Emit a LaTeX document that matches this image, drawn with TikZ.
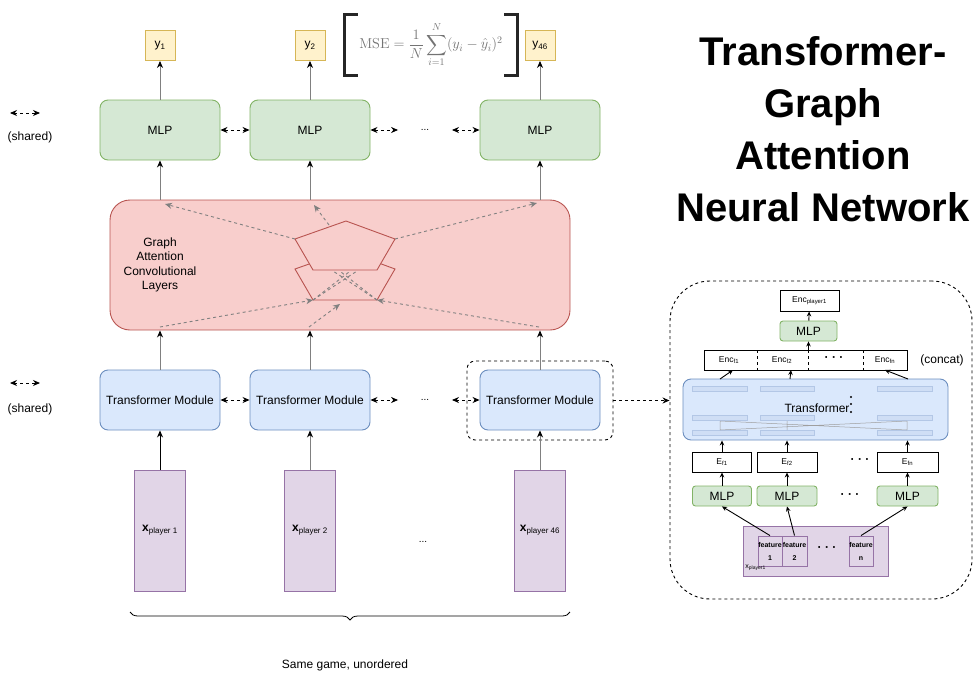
\documentclass[tikz,border=0pt]{standalone}
\usepackage{amsmath}
\usepackage[no-math]{fontspec}
\setmainfont{Liberation Sans}
\usetikzlibrary{arrows.meta,positioning,calc,decorations.pathreplacing}

\definecolor{mlpfill}{HTML}{D5E8D4}
\definecolor{mlpedge}{HTML}{82B366}
\definecolor{tffill}{HTML}{DAE8FC}
\definecolor{tfedge}{HTML}{6C8EBF}
\definecolor{gatfill}{HTML}{F8CECC}
\definecolor{gatedge}{HTML}{B85450}
\definecolor{xfill}{HTML}{E1D5E7}
\definecolor{xedge}{HTML}{9673A6}
\definecolor{yfill}{HTML}{FFF2CC}
\definecolor{yedge}{HTML}{D6B656}
\definecolor{barfill}{HTML}{CFDEF5}
\definecolor{baredge}{HTML}{B3C7E6}
\definecolor{linkgray}{HTML}{808080}

\begin{document}
\begin{tikzpicture}[x=1pt,y=-1pt,line width=0.9pt,
  font=\fontsize{12}{14}\selectfont,
  dash3/.style={dash pattern=on 3pt off 3pt},
  mlp/.style={draw=mlpedge,fill=mlpfill,rounded corners=8pt,minimum width=120pt,minimum height=60pt,inner sep=0pt},
  tfm/.style={draw=tfedge,fill=tffill,rounded corners=8pt,minimum width=120pt,minimum height=60pt,inner sep=0pt},
  ybox/.style={draw=yedge,fill=yfill,minimum width=30pt,minimum height=30pt,inner sep=0pt},
  xbox/.style={draw=xedge,fill=xfill,minimum width=51pt,minimum height=121pt,inner sep=0pt},
  dots/.style={minimum width=53pt,inner sep=0pt,font=\fontsize{10}{12}\selectfont},
  link/.style={draw=linkgray,-{Stealth[length=7pt,width=6pt,black]}},
  shared/.style={dash3,{Stealth[length=7pt,width=6pt]}-{Stealth[length=7pt,width=6pt]}},
  gatarr/.style={draw=linkgray,dash3,-{Stealth[length=7pt,width=6pt]}},
  gatdash/.style={draw=linkgray,dash3},
  penta/.style={draw=gatedge,fill=gatfill},
  plain/.style={draw,fill=white,inner sep=0pt,font=\fontsize{8.5}{10}\selectfont},
  smlp/.style={draw=mlpedge,fill=mlpfill,rounded corners=3pt,minimum height=20pt,inner sep=0pt},
  feat/.style={draw=xedge,fill=xfill,minimum height=30pt,inner sep=0pt,align=center,font=\fontsize{7}{13}\selectfont\bfseries},
  bar/.style={draw=baredge,fill=barfill,line width=0.5pt},
  sarr/.style={-{Stealth[length=5pt,width=4.5pt]}},
  idots/.style={font=\fontsize{12}{14}\selectfont\bfseries}
]
\useasboundingbox (0,0) rectangle (977,680);

\node[ybox] (y1) at (160,45.5) {y\textsubscript{1}};
\node[ybox] (y2) at (310,45.5) {y\textsubscript{2}};
\node[ybox] (y46) at (540,45.5) {y\textsubscript{46}};

\node[text=black!55,font=\fontsize{14}{16}\selectfont,minimum width=172pt,minimum height=60pt,inner sep=0pt] (mse) at (431,45)
  {$\displaystyle \mathrm{MSE}=\frac{1}{N}\sum_{i=1}^{N}(y_i-\hat{y}_i)^2$};
\draw[line width=2.2pt,black!85] ($(mse.north west)+(13,0)$) -- (mse.north west) -- (mse.south west) -- ++(13,0);
\draw[line width=2.2pt,black!85] ($(mse.north east)+(-13,0)$) -- (mse.north east) -- (mse.south east) -- ++(-13,0);

\node[font=\fontsize{40}{52}\selectfont\bfseries,align=center] (title) at (823,129)
  {Transformer-\\Graph\\Attention\\Neural Network};

\node[mlp] (mlp1) at (160,130) {MLP};
\node[mlp] (mlp2) at (310,130) {MLP};
\node[dots] (mdots) at (425,130) {...};
\node[mlp] (mlp3) at (540,130) {MLP};
\draw[shared] (mlp1) -- (mlp2);
\draw[shared] (mlp2) -- (mdots);
\draw[shared] (mdots) -- (mlp3);
\draw[link] (mlp1) -- (y1);
\draw[link] (mlp2) -- (y2);
\draw[link] (mlp3) -- (y46);

\coordinate (lega) at (10,113);
\coordinate (legb) at (40,113);
\draw[shared] (lega) -- (legb);
\node (legtxt1) at (30,137) {(shared)};

\node[draw=gatedge,fill=gatfill,rounded corners=20pt,minimum width=460pt,minimum height=130pt] (gat) at (340,265) {};
\node[align=center,font=\fontsize{12}{14.5}\selectfont] (gattxt) at (160,265) {Graph\\Attention\\Convolutional\\Layers};
\draw[penta] (295,269) -- (346,251) -- (395,269) -- (377,300) -- (313,300) -- cycle;
\draw[penta] (295,239) -- (346,221) -- (395,239) -- (377,270) -- (313,270) -- cycle;

\coordinate (pl) at (295,239);
\coordinate (pt) at (329,225);
\coordinate (pr) at (395,239);
\coordinate (qbl) at (313,300);
\coordinate (qm) at (340,304);
\coordinate (qbr) at (377,300);
\coordinate (g1) at (165,204);
\coordinate (g2) at (314,205);
\coordinate (g3) at (537,203);
\coordinate (h1) at (160,327);
\coordinate (h2) at (309,327);
\coordinate (h3) at (539,327);
\draw[gatarr] (pl) -- (g1);
\draw[gatarr] (pt) -- (g2);
\draw[gatarr] (pr) -- (g3);
\draw[gatarr] (h1) -- (qbl);
\draw[gatarr] (h2) -- (qm);
\draw[gatarr] (h3) -- (qbr);
\draw[gatdash] (qbl) -- (357,271);
\draw[gatdash] (qbl) -- (349,272);
\draw[gatdash] (qbr) -- (333,271);
\draw[gatdash] (qbr) -- (341,272);
\draw[link] (mlp1 |- gat.north) -- (mlp1);
\draw[link] (mlp2 |- gat.north) -- (mlp2);
\draw[link] (mlp3 |- gat.north) -- (mlp3);

\node[draw,dash3,rounded corners=8pt,minimum width=146pt,minimum height=79pt] (tfsel) at (540,400.5) {};
\node[tfm] (tf1) at (160,400) {Transformer Module};
\node[tfm] (tf2) at (310,400) {Transformer Module};
\node[dots] (tdots) at (425,400) {...};
\node[tfm] (tf3) at (540,400) {Transformer Module};
\draw[shared] (tf1) -- (tf2);
\draw[shared] (tf2) -- (tdots);
\draw[shared] (tdots) -- (tf3);
\draw[link] (tf1) -- (tf1 |- gat.south);
\draw[link] (tf2) -- (tf2 |- gat.south);
\draw[link] (tf3) -- (tf3 |- gat.south);

\coordinate (legc) at (10,383);
\coordinate (legd) at (40,383);
\draw[shared] (legc) -- (legd);
\node (legtxt2) at (30,409) {(shared)};

\node[xbox] (x1) at (160,530.5) {{\bfseries x}\textsubscript{player 1}};
\node[xbox] (x2) at (310,530.5) {{\bfseries x}\textsubscript{player 2}};
\node[dots] (xdots) at (423,542) {...};
\node[xbox] (x46) at (540,530.5) {{\bfseries x}\textsubscript{player 46}};
\draw[-{Stealth[length=7pt,width=6pt]}] (x1) -- (tf1);
\draw[link] (x2) -- (tf2);
\draw[link] (x46) -- (tf3);

\coordinate (bra) at (570,612);
\coordinate (brb) at (130,612);
\draw[decorate,decoration={brace,amplitude=8pt},line width=0.8pt] (bra) -- (brb);
\node (game) at (345,665) {Same game, unordered};

\node[draw,dash3,rounded corners=40pt,minimum width=302pt,minimum height=318pt,inner sep=0pt] (inset) at (821,440) {};
\draw[dash3,-{Stealth[length=7pt,width=6pt]}] (tfsel.east) -- (tfsel.east -| inset.west);

\node[plain,minimum width=59pt,minimum height=21pt] (encp) at (809.5,300.5) {Enc\textsubscript{player1}};
\node[smlp,minimum width=57pt] (smlp) at (808.5,331) {MLP};
\node[plain,minimum width=203pt,minimum height=20pt] (encrow) at (805.5,360) {};
\foreach \sx in {757,808,863}
  \draw[dash3,line width=0.7pt] (\sx,350) -- (\sx,370);
\node[font=\fontsize{8.5}{10}\selectfont] (encf1) at (729,360) {Enc\textsubscript{f1}};
\node[font=\fontsize{8.5}{10}\selectfont] (encf2) at (782,360) {Enc\textsubscript{f2}};
\node[idots] (encdots) at (834,359) {· · ·};
\node[font=\fontsize{8.5}{10}\selectfont] (encfn) at (885,360) {Enc\textsubscript{fn}};
\node (concat) at (942,360) {(concat)};
\draw[sarr] (smlp) -- (encp);
\draw[sarr] (encrow.north -| smlp) -- (smlp);

\node[draw=tfedge,fill=tffill,rounded corners=8pt,minimum width=265pt,minimum height=61pt,inner sep=0pt] (trans) at (815.5,409.5) {};
\foreach \bx/\bw in {692/747,760/814,877/932}
  \foreach \by in {386,415,430}
    \draw[bar] (\bx,\by) rectangle (\bw,\by+5);
\draw[gray!75,line width=0.5pt] (720,421) -- (907,430) (720,430) -- (907,421)
  (720,421) -- (720,430) (787,421) -- (787,430) (907,421) -- (907,430);
\node (transtxt) at (817,408) {Transformer};
\foreach \dy in {397,404,412}
  \fill (851,\dy) circle (1.1pt);

\coordinate (ta1) at (720,379);
\coordinate (tb1) at (733,370);
\coordinate (ta2) at (790,379);
\coordinate (tb2) at (791,370);
\coordinate (ta3) at (908,379);
\coordinate (tb3) at (885,370);
\draw[sarr] (ta1) -- (tb1);
\draw[sarr] (ta2) -- (tb2);
\draw[sarr] (ta3) -- (tb3);

\node[plain,minimum width=59pt,minimum height=20pt] (ef1) at (722,462) {E\textsubscript{f1}};
\node[plain,minimum width=60pt,minimum height=20pt] (ef2) at (787,462) {E\textsubscript{f2}};
\node[idots] (edots) at (860,461) {· · ·};
\node[plain,minimum width=61pt,minimum height=20pt] (efn) at (907.5,462) {E\textsubscript{fn}};
\node[smlp,minimum width=59pt] (m1) at (722,496) {MLP};
\node[smlp,minimum width=60pt] (m2) at (787,496) {MLP};
\node[idots] (mdots2) at (850,496) {· · ·};
\node[smlp,minimum width=61pt] (mn) at (907.5,496) {MLP};
\draw[sarr] (ef1) -- (ef1 |- trans.south);
\draw[sarr] (ef2) -- (ef2 |- trans.south);
\draw[sarr] (efn) -- (efn |- trans.south);
\draw[sarr] (m1) -- (ef1);
\draw[sarr] (m2) -- (ef2);
\draw[sarr] (mn) -- (efn);

\node[draw=xedge,fill=xfill,minimum width=145pt,minimum height=50pt,inner sep=0pt] (xp) at (815.5,551) {};
\node[feat,minimum width=24pt] (f1) at (770,551) {feature\\1};
\node[feat,minimum width=25pt] (f2) at (794.5,551) {feature\\2};
\node[idots] (fdots) at (827,549) {· · ·};
\node[feat,minimum width=24pt] (fn) at (861,551) {feature\\n};
\node[anchor=west,inner sep=0pt,font=\fontsize{7}{8}\selectfont] (xplab) at (745,568) {x\textsubscript{player1}};
\draw[sarr] (f1.north) -- (m1.south);
\draw[sarr] (f2.north) -- (m2.south);
\draw[sarr] (fn.north) -- (mn.south);
\end{tikzpicture}
\end{document}
